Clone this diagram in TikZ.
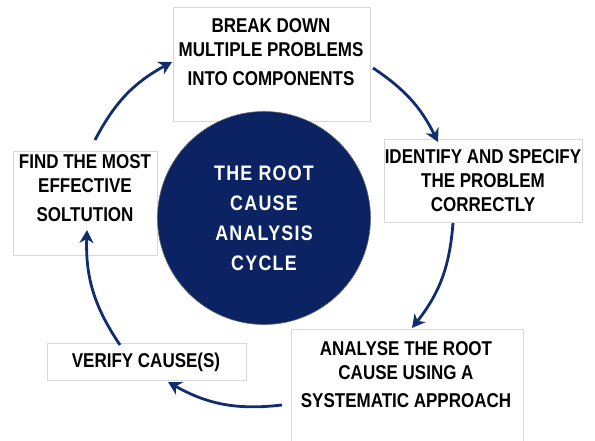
\documentclass[tikz,border=0pt]{standalone}
\usepackage{fontspec}
\setmainfont{Liberation Sans}[FakeStretch=0.85]
\usetikzlibrary{arrows.meta, positioning}
\definecolor{hubblue}{RGB}{11,35,99}
\definecolor{edgeblue}{RGB}{18,44,112}
\definecolor{boxgray}{RGB}{216,216,216}

\begin{document}
\begin{tikzpicture}[x=1pt, y=-1pt]
		\tikzset{box/.style = {shape=rectangle, draw=boxgray, line width=0.8pt, fill=white, anchor=north west, inner sep=0pt}}
		\tikzset{boxtext/.style = {align=center, inner sep=0pt, font=\fontsize{20}{24}\selectfont\bfseries}}
		\tikzset{hub/.style = {shape=circle, fill=hubblue, draw=black!60, line width=0.6pt, minimum size=213pt, inner sep=0pt, align=center, text=white, font=\fontsize{21}{30}\selectfont\bfseries\addfontfeature{LetterSpace=6}}}
		\tikzset{edge/.style = {-{Stealth[length=13pt, width=14pt, inset=4pt]}, draw=edgeblue, line width=2.8pt}}

		\useasboundingbox (0,0) rectangle (595,441);
		\clip (0,0) rectangle (595,441);

		\node[box, minimum width=197pt, minimum height=114pt] (brk) at (173,7) {};
		\node[box, minimum width=198pt, minimum height=83pt] (spec) at (384,139) {};
		\node[box, minimum width=232pt, minimum height=120pt] (anl) at (291,329) {};
		\node[box, minimum width=199pt, minimum height=37pt] (ver) at (47,343) {};
		\node[box, minimum width=144pt, minimum height=104pt] (fnd) at (13,151) {};

		\node[boxtext] (brk-t) at (271,52) {BREAK DOWN\\MULTIPLE PROBLEMS\\[5pt]INTO COMPONENTS};
		\node[boxtext] (spec-t) at (483,181) {IDENTIFY AND SPECIFY\\THE PROBLEM\\CORRECTLY};
		\node[boxtext] (anl-t) at (406,375) {ANALYSE THE ROOT\\CAUSE USING A\\[4pt]SYSTEMATIC APPROACH};
		\node[boxtext] (ver-t) at (146,362) {VERIFY CAUSE(S)};
		\node[boxtext] (fnd-t) at (85,188) {FIND THE MOST\\EFFECTIVE\\[5pt]SOLTUTION};

		\node[hub] (rca) at (264,218) {THE ROOT\\CAUSE\\ANALYSIS\\CYCLE};

		\coordinate (brk-out) at (373,68);
		\coordinate (spec-in) at (438,142);
		\coordinate (spec-out) at (453,223);
		\coordinate (anl-in) at (412,328);
		\coordinate (anl-out) at (282,405);
		\coordinate (ver-in) at (168,382);
		\coordinate (ver-out) at (120,345);
		\coordinate (fnd-in) at (87,230);
		\coordinate (fnd-out) at (95,140);
		\coordinate (brk-in) at (172,62);

		\draw[edge] (brk-out) to[bend left=15] (spec-in);
		\draw[edge] (spec-out) to[bend left=17] (anl-in);
		\draw[edge] (anl-out) to[bend left=18] (ver-in);
		\draw[edge] (ver-out) to[bend left=18] (fnd-in);
		\draw[edge] (fnd-out) to[bend left=17] (brk-in);

	\end{tikzpicture}
\end{document}
